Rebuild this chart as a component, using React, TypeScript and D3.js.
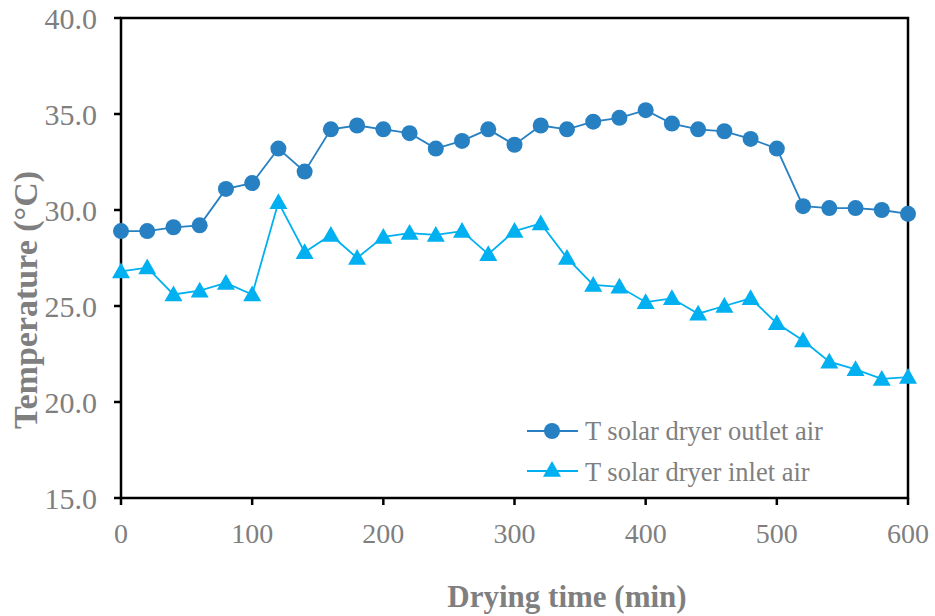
import React from 'react';
import * as d3 from 'd3';

// drying time (min)
const times = [0, 20, 40, 60, 80, 100, 120, 140, 160, 180, 200, 220, 240, 260, 280, 300,
  320, 340, 360, 380, 400, 420, 440, 460, 480, 500, 520, 540, 560, 580, 600];

// T solar dryer outlet air (°C)
const outletAir = [28.9, 28.9, 29.1, 29.2, 31.1, 31.4, 33.2, 32.0, 34.2, 34.4, 34.2, 34.0, 33.2, 33.6, 34.2, 33.4,
  34.4, 34.2, 34.6, 34.8, 35.2, 34.5, 34.2, 34.1, 33.7, 33.2, 30.2, 30.1, 30.1, 30.0, 29.8];

// T solar dryer inlet air (°C)
const inletAir = [26.8, 27.0, 25.6, 25.8, 26.2, 25.6, 30.4, 27.8, 28.7, 27.5, 28.6, 28.8, 28.7, 28.9, 27.7, 28.9,
  29.3, 27.5, 26.1, 26.0, 25.2, 25.4, 24.6, 25.0, 25.4, 24.1, 23.2, 22.1, 21.7, 21.2, 21.3];

const xTicks = [0, 100, 200, 300, 400, 500, 600];
const yTicks = [15, 20, 25, 30, 35, 40];

const W = 935;
const H = 616;
const left = 121, right = 908, top = 18, bottom = 498;

const outletColor = '#2680C2';
const inletColor = '#00B0F0';
const textColor = '#7F7F7F';
const font = '"Liberation Serif", "Times New Roman", serif';

const x = d3.scaleLinear().domain([0, 600]).range([left, right]);
const y = d3.scaleLinear().domain([15, 40]).range([bottom, top]);

const line = d3.line<number>()
  .x((d, i) => x(times[i]))
  .y(d => y(d));

const triangle = (cx: number, cy: number, s = 9) =>
  `M${cx},${cy - s} L${cx + s},${cy + s * 0.75} L${cx - s},${cy + s * 0.75} Z`;

export default function App() {
  return (
    <svg width={W} height={H} style={{ position: 'absolute', left: 0, top: 0, background: '#fff' }}>
      {/* frame */}
      <rect x={left} y={top} width={right - left} height={bottom - top}
        fill="none" stroke="#000" strokeWidth={2.5} />

      {/* y axis ticks & labels */}
      {yTicks.map(t => (
        <g key={'y' + t}>
          <line x1={left - 7} x2={left} y1={y(t)} y2={y(t)} stroke="#000" strokeWidth={2.5} />
          <text x={left - 24} y={y(t)} dy="0.35em" textAnchor="end" fontFamily={font}
            fontSize={30} fill={textColor}>{d3.format('.1f')(t)}</text>
        </g>
      ))}

      {/* x axis ticks & labels */}
      {xTicks.map(t => (
        <g key={'x' + t}>
          <line x1={x(t)} x2={x(t)} y1={bottom} y2={bottom + 7} stroke="#000" strokeWidth={2.5} />
          <text x={x(t)} y={543} textAnchor="middle" fontFamily={font}
            fontSize={28} fill={textColor}>{t}</text>
        </g>
      ))}

      {/* axis titles */}
      <text x={567} y={607} textAnchor="middle" fontFamily={font} fontSize={31}
        fontWeight="bold" fill={textColor}>Drying time (min)</text>
      <text transform={`translate(37,300) rotate(-90)`} textAnchor="middle" fontFamily={font}
        fontSize={34} fontWeight="bold" fill={textColor}>Temperature (°C)</text>

      {/* series */}
      <path d={line(outletAir) || ''} fill="none" stroke={outletColor} strokeWidth={1.8} />
      {outletAir.map((v, i) => (
        <circle key={'o' + i} cx={x(times[i])} cy={y(v)} r={8} fill={outletColor} />
      ))}
      <path d={line(inletAir) || ''} fill="none" stroke={inletColor} strokeWidth={1.8} />
      {inletAir.map((v, i) => (
        <path key={'t' + i} d={triangle(x(times[i]), y(v))} fill={inletColor} />
      ))}

      {/* legend */}
      <line x1={527} x2={578} y1={431} y2={431} stroke={outletColor} strokeWidth={1.8} />
      <circle cx={552} cy={431} r={8} fill={outletColor} />
      <text x={585} y={431} dy="0.35em" fontFamily={font} fontSize={26.5} fill={textColor}>
        T solar dryer outlet air
      </text>
      <line x1={527} x2={578} y1={471} y2={471} stroke={inletColor} strokeWidth={1.8} />
      <path d={triangle(552, 470)} fill={inletColor} />
      <text x={585} y={472} dy="0.35em" fontFamily={font} fontSize={26.5} fill={textColor}>
        T solar dryer inlet air
      </text>
    </svg>
  );
}
